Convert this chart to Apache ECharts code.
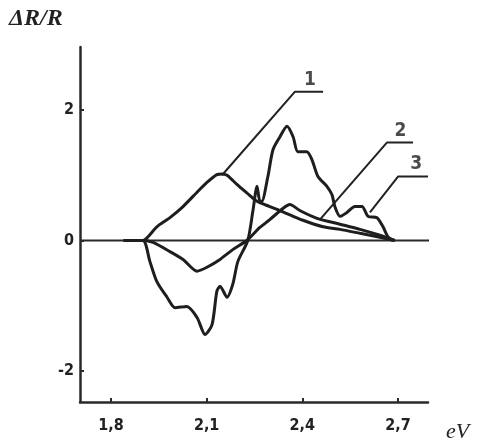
<!DOCTYPE html>
<html>
<head>
<meta charset="utf-8">
<script src="https://cdn.jsdelivr.net/npm/echarts@6/dist/echarts.min.js"></script>
<style>html,body{margin:0;padding:0;background:#fff}#c{width:481px;height:446px}</style>
</head>
<body>
<div id="c"></div>
<script>
// Curve 1: broad hump
const curve1X = [1.84, 1.891, 1.900, 1.944, 1.985, 2.026, 2.070, 2.101, 2.132, 2.148, 2.164, 2.195, 2.226, 2.258, 2.298, 2.339, 2.402, 2.465, 2.518, 2.581, 2.643, 2.690];
const curve1Y = [0, 0, 0, 0.21, 0.35, 0.52, 0.74, 0.89, 1.01, 1.02, 1.00, 0.86, 0.73, 0.60, 0.52, 0.44, 0.31, 0.21, 0.17, 0.11, 0.05, 0];
// Curve 2: small negative dip then positive bump
const curve2X = [1.84, 1.900, 1.932, 1.985, 2.026, 2.070, 2.101, 2.142, 2.182, 2.226, 2.267, 2.298, 2.339, 2.361, 2.392, 2.446, 2.518, 2.581, 2.643, 2.690];
const curve2Y = [0, 0, -0.03, -0.17, -0.29, -0.47, -0.41, -0.29, -0.14, 0, 0.20, 0.32, 0.49, 0.55, 0.46, 0.34, 0.25, 0.17, 0.08, 0];
// Curve 3: spiky curve
const curve3X = [1.84, 1.900, 1.922, 1.944, 1.976, 2.001, 2.038, 2.070, 2.095, 2.117, 2.132, 2.142, 2.164, 2.182, 2.198, 2.229, 2.245, 2.258, 2.267, 2.273, 2.292, 2.308, 2.330, 2.352, 2.371, 2.386, 2.414, 2.430, 2.449, 2.477, 2.493, 2.502, 2.518, 2.540, 2.565, 2.587, 2.606, 2.634, 2.653, 2.668, 2.684];
const curve3Y = [0, 0, -0.32, -0.63, -0.87, -1.03, -1.01, -1.18, -1.44, -1.29, -0.78, -0.70, -0.87, -0.67, -0.32, 0, 0.45, 0.83, 0.60, 0.60, 0.98, 1.39, 1.59, 1.75, 1.59, 1.36, 1.36, 1.24, 0.98, 0.83, 0.70, 0.52, 0.37, 0.43, 0.52, 0.52, 0.37, 0.35, 0.21, 0.06, 0];
// Tick labels
const xTicks = [1.8, 2.1, 2.4, 2.7];
const yTicks = [-2, 0, 2];
// Curve labels with leader lines (data coordinates)
const labelNames = ['1', '2', '3'];
const leaderX = [[2.148, 2.377, 2.465], [2.455, 2.665, 2.747], [2.612, 2.700, 2.794]];
const leaderY = [[1.00, 2.28, 2.28], [0.32, 1.50, 1.50], [0.43, 0.98, 0.98]];
const labelPosX = [2.424, 2.708, 2.757];
const labelPosY = [2.46, 1.68, 1.17];

const zip = (xs, ys) => xs.map((x, i) => [x, ys[i]]);
const curveStyle = { color: '#1e1e1e', width: 3 };
const series = [];
[[curve1X, curve1Y], [curve2X, curve2Y], [curve3X, curve3Y]].forEach(([xs, ys]) => {
  series.push({ type: 'line', data: zip(xs, ys), smooth: 0.25, showSymbol: false, lineStyle: curveStyle, z: 3 });
});
// zero line
series.push({ type: 'line', data: [[1.703, 0], [2.80, 0]], showSymbol: false, lineStyle: { color: '#2a2a2a', width: 2 }, z: 2 });
leaderX.forEach((xs, i) => {
  series.push({ type: 'line', data: zip(xs, leaderY[i]), showSymbol: false, lineStyle: { color: '#222', width: 2 }, z: 2 });
});
series.push({
  type: 'scatter', symbolSize: 0, itemStyle: { color: '#222' },
  data: labelNames.map((n, i) => ({ value: [labelPosX[i], labelPosY[i]], name: n })),
  label: { show: true, position: 'inside', formatter: p => p.name, color: '#1e1e1e', textBorderWidth: 0, fontSize: 19, fontWeight: 'bold', fontFamily: 'DejaVu Sans Condensed, DejaVu Sans' }
});

const chart = echarts.init(document.getElementById('c'), null, { renderer: 'canvas' });
chart.setOption({
  animation: false,
  backgroundColor: '#fff',
  grid: { left: 80, top: 47, width: 348, height: 355 },
  xAxis: {
    type: 'value', min: 1.703, max: 2.794,
    splitLine: { show: false },
    axisLine: { onZero: false, lineStyle: { color: '#2a2a2a', width: 2.5 } },
    axisTick: { inside: true, length: 4, customValues: xTicks, lineStyle: { color: '#2a2a2a', width: 2 } },
    axisLabel: { customValues: xTicks, formatter: v => v.toFixed(1).replace('.', ','), margin: 16, color: '#222', fontSize: 16, fontWeight: 'bold', fontFamily: 'DejaVu Sans Condensed, DejaVu Sans' }
  },
  yAxis: {
    type: 'value', min: -2.475, max: 2.965,
    splitLine: { show: false },
    axisLine: { onZero: false, lineStyle: { color: '#2a2a2a', width: 2.5 } },
    axisTick: { inside: true, length: 4, customValues: yTicks, lineStyle: { color: '#2a2a2a', width: 2 } },
    axisLabel: { customValues: yTicks, formatter: v => String(v), margin: 6, color: '#222', fontSize: 16, fontWeight: 'bold', fontFamily: 'DejaVu Sans Condensed, DejaVu Sans' }
  },
  graphic: [
    { type: 'text', left: 9, top: 7, style: { text: 'ΔR/R', fill: '#222', font: 'italic bold 24px "Liberation Serif"' } },
    { type: 'text', left: 446, top: 421, style: { text: 'eV', fill: '#222', font: 'italic 22px "Liberation Serif"' } }
  ],
  series
});
</script>
</body>
</html>
